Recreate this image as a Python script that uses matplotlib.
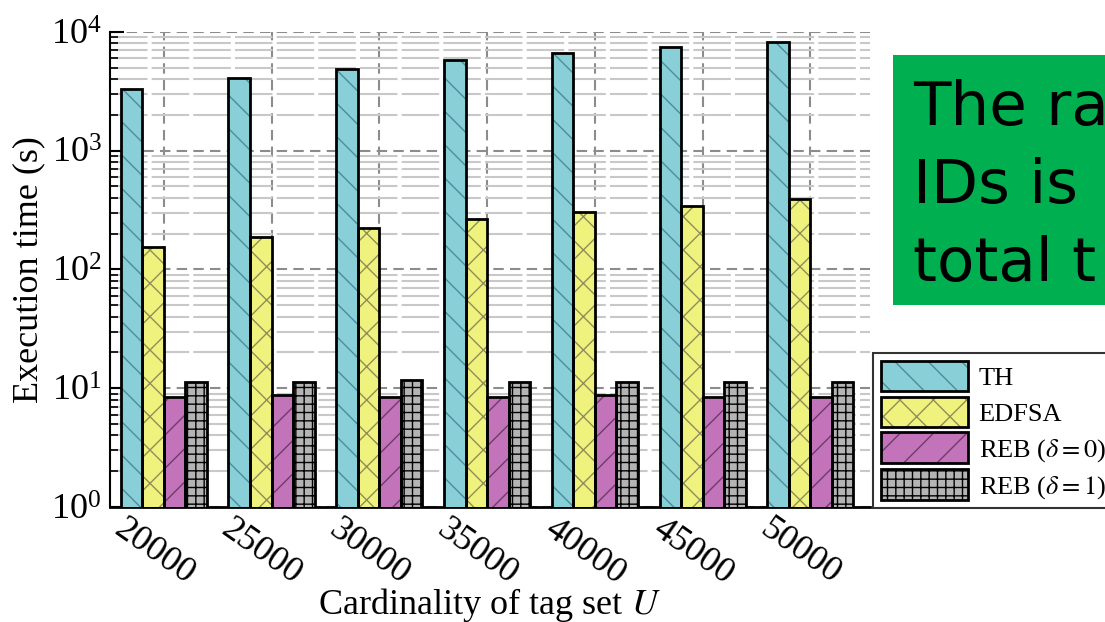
import matplotlib
matplotlib.use('Agg')
import matplotlib.pyplot as plt
from matplotlib.patches import Patch, Rectangle
from matplotlib.legend_handler import HandlerTuple
from matplotlib.transforms import ScaledTranslation
import numpy as np

plt.rcParams['font.family'] = ['Liberation Serif', 'DejaVu Serif']
plt.rcParams['mathtext.fontset'] = 'stix'
plt.rcParams['hatch.linewidth'] = 1.0

# x axis categories
cardinality = ['20000', '25000', '30000', '35000', '40000', '45000', '50000']

# execution time (s) per method
th = [3300, 4100, 4900, 5800, 6600, 7400, 8200]
edfsa = [155, 188, 225, 268, 305, 345, 392]
reb0 = [8.4, 8.8, 8.4, 8.4, 8.8, 8.4, 8.4]
reb1 = [11.3, 11.3, 11.8, 11.3, 11.3, 11.3, 11.3]

# note text lines (cut off at the right edge, as in the original)
note_lines = ['The ra', 'IDs is', 'total t']

series = [
    ('TH', th, '#88CFD8', '\\', '#4F8C9A'),
    ('EDFSA', edfsa, '#F0F27E', 'x', '#8E8F58'),
    (r'REB ($\delta=0$)', reb0, '#C373BA', '/', '#6E3C68'),
    (r'REB ($\delta=1$)', reb1, '#B4B4B4', '++', '#000000'),
]

fig = plt.figure(figsize=(11.05, 6.22), dpi=100)
ax = fig.add_axes([0.0995, 0.185, 0.6875, 0.7636])

xpos = np.arange(len(cardinality))
width = 0.2
offsets = [-0.3, -0.1, 0.1, 0.3]

handles = []
for (name, vals, face, hatch, hcol), off in zip(series, offsets):
    # hatch layer, then outline layer on top
    ax.bar(xpos + off, vals, width=width, color=face, hatch=hatch,
           edgecolor=hcol, linewidth=0, zorder=3)
    ax.bar(xpos + off, vals, width=width, fill=False,
           edgecolor='black', linewidth=2, zorder=4)
    h1 = Patch(facecolor=face, hatch=hatch, edgecolor=hcol, linewidth=0)
    h2 = Patch(fill=False, edgecolor='black', linewidth=2)
    handles.append((h1, h2))

ax.set_yscale('log')
ax.set_ylim(1, 1e4)
ax.set_xlim(-0.5, 6.55)

ax.tick_params(axis='x', length=0, pad=4)
ax.tick_params(axis='y', which='major', direction='in', length=10, width=1.5,
               labelsize=26, pad=6)
ax.tick_params(axis='y', which='minor', direction='in', length=6, width=1.2)

ax.set_xticks(xpos)
ax.set_xticklabels(cardinality, rotation=-35, ha='center', va='top', fontsize=26)
# nudge the rotated labels a little to the left
shift = ScaledTranslation(-10 / 100, 0, fig.dpi_scale_trans)
for lbl in ax.get_xticklabels():
    lbl.set_transform(lbl.get_transform() + shift)

ax.grid(True, axis='y', which='major', linestyle=(0, (5, 3)), color='#8C8C8C', linewidth=1.5, zorder=1)
ax.grid(True, axis='y', which='minor', linestyle=(0, (18, 2)), color='#C8C8C8', linewidth=1.5, zorder=1)
ax.grid(True, axis='x', which='major', linestyle=(0, (5, 3)), color='#8C8C8C', linewidth=1.5, zorder=1)

ax.spines['top'].set_visible(False)
ax.spines['right'].set_visible(False)
ax.spines['left'].set_linewidth(1.5)
ax.spines['bottom'].set_linewidth(2)

ax.set_ylabel('Execution time (s)', fontsize=26, labelpad=4)
ax.set_xlabel('Cardinality of tag set $U$', fontsize=26, labelpad=-4)

leg = fig.legend(handles, [s[0] for s in series],
                 handler_map={tuple: HandlerTuple(ndivide=1, pad=0)},
                 loc='upper left', bbox_to_anchor=(873 / 1105, 1 - 353 / 622),
                 fontsize=19, frameon=True, fancybox=False, edgecolor='black',
                 handlelength=3.3, handleheight=1.4, labelspacing=0.2,
                 handletextpad=0.4, borderpad=0.3, borderaxespad=0)
leg.get_frame().set_linewidth(1.5)

# green note box (cut off at the right edge)
fig.patches.append(Rectangle((893 / 1105, 1 - 305 / 622), 0.3, 250 / 622,
                             transform=fig.transFigure, facecolor='#00B050',
                             edgecolor='none', zorder=5))
for i, line in enumerate(note_lines):
    fig.text(913 / 1105, 1 - (125 + 78 * i) / 622, line, fontsize=44,
             family='DejaVu Sans', va='baseline', ha='left', zorder=6)

fig.savefig('out.png', dpi=100)
